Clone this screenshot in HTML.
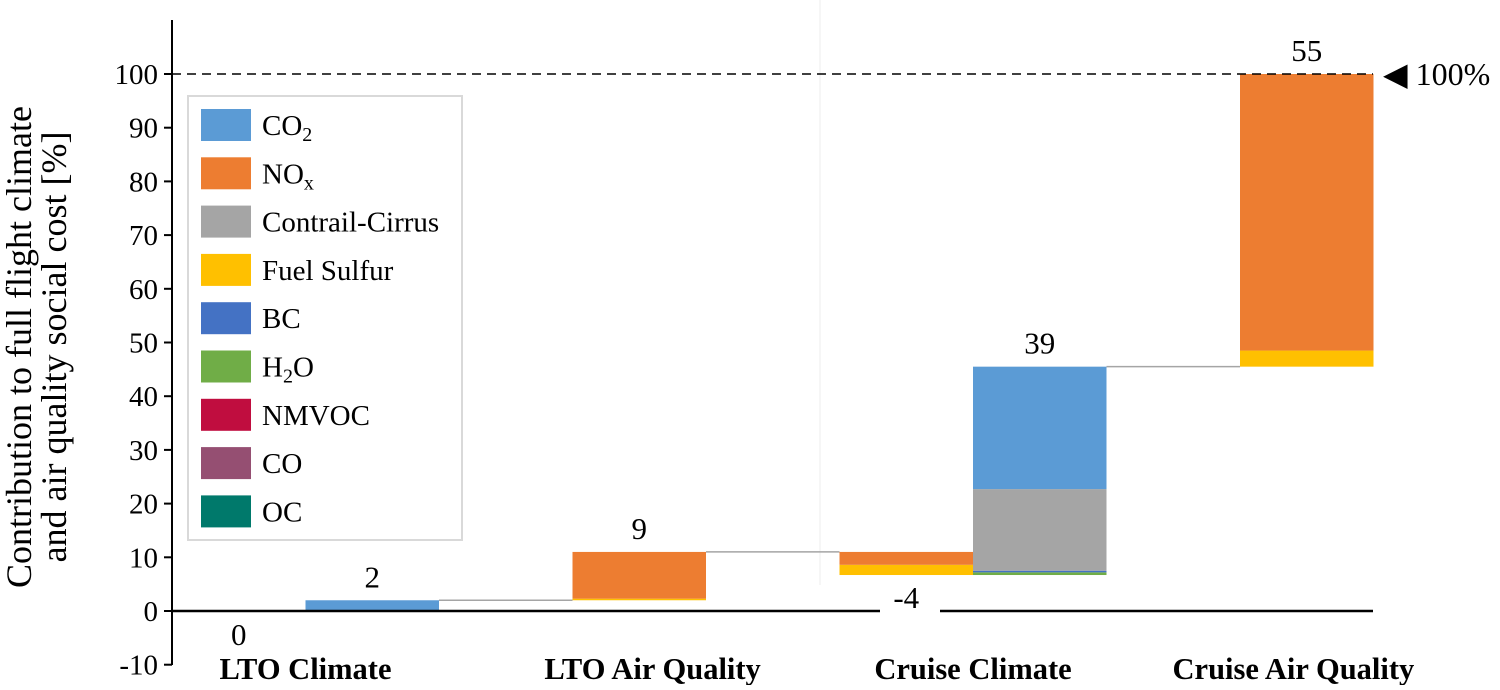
<!DOCTYPE html>
<html><head><meta charset="utf-8"><style>
body{margin:0;background:#fff;font-family:"Liberation Serif",serif}
svg text{font-family:"Liberation Serif",serif}
</style></head><body>
<svg id="chart" width="1500" height="685" xmlns="http://www.w3.org/2000/svg"></svg>
<script>
const yTicks=[-10,0,10,20,30,40,50,60,70,80,90,100];
const categories=["LTO Climate","LTO Air Quality","Cruise Climate","Cruise Air Quality"];
const categoryCenters=[1.0,3.6,6.0,8.4];
const barSlots=[0,1,3,5,6,8];
const barBases=[0,0,2,6.7,6.7,45.5];
const barTotals=["0","2","9","-4","39","55"];
const barSpecies=[["Fuel Sulfur"],["CO2"],["Fuel Sulfur","NOx"],["Fuel Sulfur","NOx"],["H2O","BC","Contrail-Cirrus","CO2"],["Fuel Sulfur","NOx"]];
const barValues=[[0.15],[2],[0.3,8.7],[1.9,2.4],[0.5,0.3,15.2,22.8],[3,51.5]];
const legendNames=["CO2","NOx","Contrail-Cirrus","Fuel Sulfur","BC","H2O","NMVOC","CO","OC"];
const legendColors=["#5b9bd5","#ed7d31","#a5a5a5","#ffc000","#4472c4","#70ad47","#c00d3f","#954f72","#00796b"];
const svg=document.getElementById('chart');const NS="http://www.w3.org/2000/svg";
function el(t,a,txt){const e=document.createElementNS(NS,t);for(const k in a)e.setAttribute(k,a[k]);if(txt!==undefined)e.textContent=txt;svg.appendChild(e);return e;}
const x0=172,bw=133.5;
function xs(i){return x0+i*bw;}
function ys(v){return 611-v*5.37;}
function col(n){return legendColors[legendNames.indexOf(n)];}
let d=el('line',{x1:820,y1:0,x2:820,y2:585,stroke:'#eee','stroke-width':1});


const tops=[];
barValues.forEach((vals,i)=>{let base=barBases[i];const s=barSlots[i];
 vals.forEach((v,j)=>{const r=el('rect',{x:xs(s),y:ys(base+v),width:bw,height:Math.max(1,v*5.37),fill:col(barSpecies[i][j])});
  
  
  base+=v;});
 tops.push(base);
 const neg=barTotals[i].startsWith('-');
 const ly=neg?ys(barBases[i])+33:(i===0?ys(0)+34:ys(base)-13);
 const t=el('text',{x:xs(s)+bw/2,y:ly,'font-size':31,'text-anchor':'middle'},barTotals[i]);
 
 
});
[1,2,4].forEach(i=>{const s=barSlots[i];
 const c=el('line',{x1:xs(s+1),y1:ys(tops[i]),x2:xs(s+2),y2:ys(tops[i]),stroke:'#a5a5a5','stroke-width':1.5});
 
 });
let ax=el('line',{x1:x0,y1:611,x2:880,y2:611,stroke:'#000','stroke-width':2.5});

ax=el('line',{x1:940,y1:611,x2:1373,y2:611,stroke:'#000','stroke-width':2.5});

let ya=el('line',{x1:x0,y1:20,x2:x0,y2:665,stroke:'#000','stroke-width':2});

yTicks.forEach(v=>{const tk=el('line',{x1:x0-8,y1:ys(v),x2:x0,y2:ys(v),stroke:'#000','stroke-width':2});
 
 const t=el('text',{x:x0-14,y:ys(v)+10,'font-size':29,'text-anchor':'end'},String(v));
 });
categories.forEach((c,i)=>{const t=el('text',{x:xs(categoryCenters[i]),y:679,'font-size':30.5,'font-weight':'bold','text-anchor':'middle'},c);
 });
const dl=el('line',{x1:x0,y1:ys(100),x2:1373,y2:ys(100),stroke:'#000','stroke-width':1.5,'stroke-dasharray':'9,6'});

const mk=el('text',{x:1383,y:ys(100)+11,'font-size':32},'◀ 100%');

const yt=el('text',{'font-size':36,'text-anchor':'middle',transform:'rotate(-90)'});

yt.innerHTML='<tspan x="-347" y="31">Contribution to full flight climate</tspan><tspan x="-347" y="66">and air quality social cost [%]</tspan>';
const lb=el('rect',{x:188,y:96,width:274,height:444,fill:'#fff',stroke:'#d9d9d9','stroke-width':2});

const labels=['CO<tspan font-size="20" dy="6">2</tspan>','NO<tspan font-size="20" dy="6">x</tspan>','Contrail-Cirrus','Fuel Sulfur','BC','H<tspan font-size="20" dy="6">2</tspan><tspan dy="-6">O</tspan>','NMVOC','CO','OC'];
legendNames.forEach((n,i)=>{const cy=125+i*48.3;
 const s=el('rect',{x:201,y:cy-16,width:50,height:32,fill:legendColors[i]});
 
 const t=el('text',{x:262,y:cy+10,'font-size':29});t.innerHTML=labels[i];
 });
</script>
</body></html>
